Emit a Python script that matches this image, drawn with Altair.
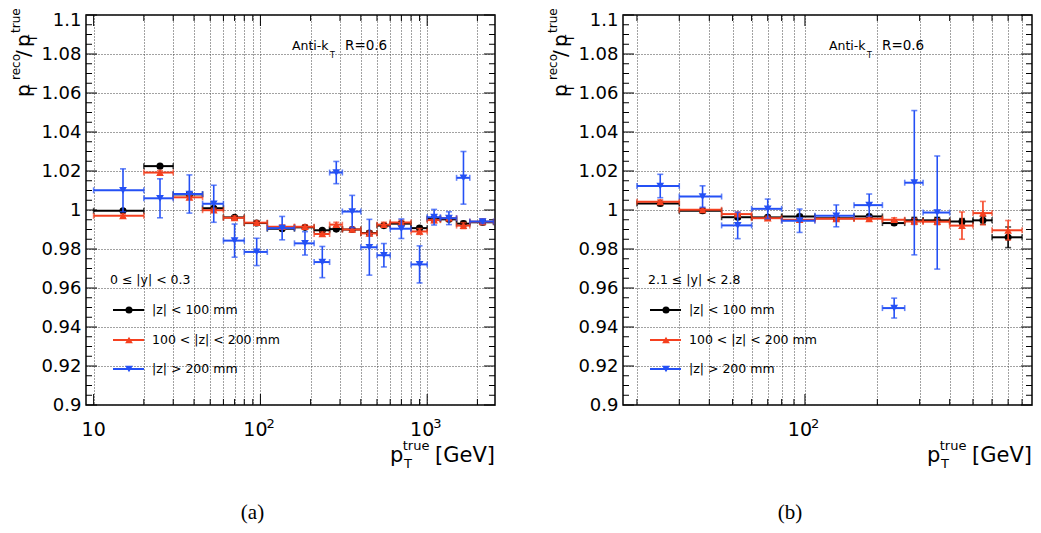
import altair as alt
import pandas as pd

# ---------------- panel (a): 0 <= |y| < 0.3 ----------------
a_lo = [10, 20, 30, 45, 60, 80, 110, 160, 210, 260, 310, 400, 500, 600, 800, 1000, 1200, 1500, 1800]
a_hi = [20, 30, 45, 60, 80, 110, 160, 210, 260, 310, 400, 500, 600, 800, 1000, 1200, 1500, 1800, 2500]
a_x = [15, 25, 37.5, 52.5, 70, 95, 135, 185, 235, 285, 355, 450, 550, 700, 900, 1100, 1350, 1650, 2150]
a_black = [0.9996, 1.0225, 1.008, 1.0009, 0.9962, 0.9933, 0.9904, 0.9911, 0.9896, 0.9902, 0.9900,
           0.9882, 0.9920, 0.9930, 0.9907, 0.9955, 0.9952, 0.9930, 0.9937]
a_black_err = [0.0008, 0.0008, 0.0008, 0.0008, 0.0008, 0.0008, 0.0008, 0.0008, 0.0008, 0.0008, 0.0008,
               0.001, 0.001, 0.001, 0.001, 0.001, 0.001, 0.0012, 0.0012]
a_red = [0.9970, 1.0192, 1.0065, 0.9999, 0.9960, 0.9935, 0.9914, 0.9914, 0.9877, 0.9925, 0.9900,
         0.9880, 0.9925, 0.9936, 0.9890, 0.9948, 0.9958, 0.9920, 0.9940]
a_red_err = [0.001, 0.001, 0.001, 0.001, 0.001, 0.001, 0.001, 0.001, 0.001, 0.0012, 0.0012,
             0.0012, 0.0012, 0.0012, 0.0015, 0.0012, 0.0012, 0.0015, 0.0015]
a_blue = [1.0101, 1.0060, 1.0082, 1.0032, 0.9843, 0.9785, 0.9907, 0.9829, 0.9733, 1.0192, 0.9992,
          0.9809, 0.9768, 0.9904, 0.9721, 0.9963, 0.9958, 1.0165, 0.9941]
a_blue_err = [0.011, 0.010, 0.0098, 0.0095, 0.0085, 0.007, 0.006, 0.006, 0.008, 0.0057, 0.0083,
              0.0143, 0.006, 0.005, 0.0095, 0.004, 0.0033, 0.0135, 0.001]

# ---------------- panel (b): 2.1 <= |y| < 2.8 ----------------
b_lo = [20, 30, 45, 60, 80, 110, 160, 210, 260, 310, 400, 500, 600]
b_hi = [30, 45, 60, 80, 110, 160, 210, 260, 310, 400, 500, 600, 800]
b_x = [25, 37.5, 52.5, 70, 95, 135, 185, 235, 285, 355, 450, 550, 700]
b_black = [1.0033, 0.9996, 0.9963, 0.9962, 0.9967, 0.9958, 0.9967, 0.9933, 0.9947, 0.9947, 0.9941, 0.9947, 0.9860]
b_black_err = [0.001, 0.001, 0.001, 0.001, 0.001, 0.001, 0.001, 0.001, 0.0015, 0.0015, 0.0015, 0.002, 0.0053]
b_red = [1.0042, 1.0001, 0.9979, 0.9958, 0.9950, 0.9955, 0.9955, 0.9950, 0.9941, 0.9940, 0.9920, 0.9984, 0.9896]
b_red_err = [0.001, 0.001, 0.001, 0.001, 0.001, 0.001, 0.001, 0.001, 0.0015, 0.0015, 0.007, 0.006, 0.005]
b_blue = [1.0123, 1.0069, 0.9921, 1.0006, 0.9945, 0.9970, 1.0025, 0.9497, 1.0140, 0.9987]
b_blue_err = [0.006, 0.0055, 0.0068, 0.005, 0.006, 0.0056, 0.0057, 0.0051, 0.037, 0.029]

# ---------------- axes ----------------
y_major = [0.90, 0.92, 0.94, 0.96, 0.98, 1.00, 1.02, 1.04, 1.06, 1.08, 1.10]
y_minor = [round(0.9 + 0.005 * i, 3) for i in range(41) if i % 4 != 0]

a_grid = [10, 20, 30, 40, 50, 60, 70, 80, 90, 100, 200, 300, 400, 500, 600, 700, 800, 900, 1000, 2000]
a_major = [10, 100, 1000]
a_minor = [20, 30, 40, 50, 60, 70, 80, 90, 200, 300, 400, 500, 600, 700, 800, 900, 2000]
a_plain = [10]
a_pow = [100, 1000]
a_exp = ["2", "3"]

b_grid = [20, 30, 40, 50, 60, 70, 80, 90, 100, 200, 300, 400, 500, 600, 700, 800]
b_major = [100]
b_minor = [20, 30, 40, 50, 60, 70, 80, 90, 200, 300, 400, 500, 600, 700, 800]
b_plain = []
b_pow = [100]
b_exp = ["2"]

series_names = ["|z| < 100 mm", "100 < |z| < 200 mm", "|z| > 200 mm"]
colors = ["#000000", "#F5401F", "#2450F5"]
shapes = ["circle", "triangle-up", "triangle-down"]
sizes = [50, 60, 60]

W, H = 409, 390
FONT = "DejaVu Sans"
ONE = pd.DataFrame({"k": [0]})
D = -3  # vertical offset of annotations relative to the plot top


def T(s, x, y, size, align="left", baseline="alphabetic", angle=None, font=FONT):
    kw = dict(text=s, align=align, baseline=baseline, fontSize=size, font=font, color="black")
    if angle is not None:
        kw["angle"] = angle
    return alt.Chart(ONE).mark_text(**kw).encode(x=alt.value(x), y=alt.value(y + D))


def make_panel(lo, hi, xc, series, xdom, grid_vals, major, minor, plain, powv, expv, eta_text, eta_x):
    xs = alt.Scale(type="log", domain=xdom, nice=False)
    ys = alt.Scale(domain=[0.9, 1.1], nice=False, zero=False)
    xaxis = alt.Axis(values=grid_vals, labels=False, ticks=False, domain=False, grid=True,
                     gridDash=[1, 2], gridColor="#444444", gridWidth=1, title=None)
    yaxis = alt.Axis(values=y_major, format=".2~f", labelFont=FONT, labelFontSize=18,
                     labelColor="black", labelPadding=5, ticks=False, domain=False, grid=True,
                     gridDash=[1, 2], gridColor="#444444", gridWidth=1, title=None,
                     labelFlush=False, labelOverlap=False,
                     labelOffset=alt.condition("datum.value > 1.099", alt.value(5), alt.value(0)))

    def X(f):
        return alt.X(f, type="quantitative", scale=xs, axis=xaxis)

    def Y(f):
        return alt.Y(f, type="quantitative", scale=ys, axis=yaxis)

    layers = []
    ym = pd.DataFrame({"v": y_major})
    yn = pd.DataFrame({"v": y_minor})
    xm = pd.DataFrame({"v": major})
    xn = pd.DataFrame({"v": minor})
    for df, L in ((ym, 11), (yn, 6)):
        layers.append(alt.Chart(df).mark_rule(color="black", strokeWidth=1).encode(
            y=Y("v"), x=alt.value(0), x2=alt.value(L)))
        layers.append(alt.Chart(df).mark_rule(color="black", strokeWidth=1).encode(
            y=Y("v"), x=alt.value(W - L), x2=alt.value(W)))
    for df, L in ((xm, 11), (xn, 6)):
        layers.append(alt.Chart(df).mark_rule(color="black", strokeWidth=1).encode(
            x=X("v"), y=alt.value(H), y2=alt.value(H - L)))
        layers.append(alt.Chart(df).mark_rule(color="black", strokeWidth=1).encode(
            x=X("v"), y=alt.value(0), y2=alt.value(L)))

    # x tick labels
    if plain:
        layers.append(alt.Chart(pd.DataFrame({"v": plain})).mark_text(
            text="10", align="center", baseline="alphabetic", fontSize=19, font=FONT, color="black"
        ).encode(x=X("v"), y=alt.value(424 + D)))
    pdf = pd.DataFrame({"v": powv, "e": expv})
    layers.append(alt.Chart(pdf).mark_text(
        text="10", align="center", baseline="alphabetic", fontSize=19, font=FONT, color="black", dx=-5
    ).encode(x=X("v"), y=alt.value(424 + D)))
    layers.append(alt.Chart(pdf).mark_text(
        align="left", baseline="alphabetic", fontSize=13, font=FONT, color="black", dx=6
    ).encode(x=X("v"), y=alt.value(416 + D), text="e:N"))

    # data series
    for (vals, errs), color, shape, size in zip(series, colors, shapes, sizes):
        n = len(vals)
        df = pd.DataFrame({
            "lo": lo[:n], "hi": hi[:n], "x": xc[:n], "y": vals,
            "ylo": [v - e for v, e in zip(vals, errs)],
            "yhi": [v + e for v, e in zip(vals, errs)],
        })
        base = alt.Chart(df)
        layers += [
            base.mark_rule(color=color, strokeWidth=2).encode(x=X("lo"), x2=alt.X2("hi"), y=Y("y")),
            base.mark_rule(color=color, strokeWidth=1.6).encode(x=X("x"), y=Y("ylo"), y2=alt.Y2("yhi")),
            base.transform_fold(["lo", "hi"], as_=["k", "xv"]).mark_tick(
                orient="vertical", size=6, thickness=1.6, color=color).encode(x=X("xv"), y=Y("y")),
            base.transform_fold(["ylo", "yhi"], as_=["k", "yv"]).mark_tick(
                orient="horizontal", size=6, thickness=1.6, color=color).encode(x=X("x"), y=Y("yv")),
            base.mark_point(shape=shape, filled=True, size=size, color=color, opacity=1).encode(
                x=X("x"), y=Y("y")),
        ]

    # legend
    for i, (name, color, shape, size) in enumerate(zip(series_names, colors, shapes, sizes)):
        yy = [298, 328, 357][i]
        layers.append(alt.Chart(ONE).mark_rule(color=color, strokeWidth=2).encode(
            x=alt.value(27), x2=alt.value(58), y=alt.value(yy + D)))
        layers.append(alt.Chart(ONE).mark_point(shape=shape, filled=True, size=size, color=color,
                                                opacity=1).encode(x=alt.value(43), y=alt.value(yy + D)))
        layers.append(T(name, 66, yy, 12.5, baseline="middle"))

    # annotations
    layers += [
        T("Anti-k", 206, 38, 12.5),
        T("T", 244, 46, 8),
        T("R=0.6", 259, 38, 13.5),
        T(eta_text, eta_x, 272, 12.5),
        # y title (rotated)
        T("p", -56, 85, 20, angle=270),
        T("T", -49, 80, 12, angle=270),
        T("reco", -66, 68, 12, angle=270),
        T("/", -56, 45, 20, angle=270),
        T("p", -56, 35, 20, angle=270),
        T("T", -49, 30, 12, angle=270),
        T("true", -66, 21, 12, angle=270),
        # x title
        T("p", 304, 449.7, 21),
        T("T", 318, 456.3, 13),
        T("true", 316.7, 438, 13),
        T("[GeV]", 409, 449.7, 21, align="right"),
    ]
    return alt.layer(*layers).properties(width=W, height=H)


left = make_panel(a_lo, a_hi, a_x,
                  [(a_black, a_black_err), (a_red, a_red_err), (a_blue, a_blue_err)],
                  [9, 2550], a_grid, a_major, a_minor, a_plain, a_pow, a_exp,
                  "0 \u2264 |y| < 0.3", 24)
left = alt.layer(left, T("(a)", 166.5, 507, 21, align="center", font="Liberation Serif"))

right = make_panel(b_lo, b_hi, b_x,
                   [(b_black, b_black_err), (b_red, b_red_err), (b_blue, b_blue_err)],
                   [17.5, 880], b_grid, b_major, b_minor, b_plain, b_pow, b_exp,
                   "2.1 \u2264 |y| < 2.8", 25)
right = alt.layer(right, T("(b)", 167, 507, 21, align="center", font="Liberation Serif"))

chart = alt.hconcat(left, right, spacing=128, bounds="flush").properties(
    autosize=alt.AutoSizeParams(type="none"),
    padding={"left": 78, "top": 7, "right": 947, "bottom": 510},
).configure_view(stroke="black", strokeWidth=1.5)

chart.save("out.html", embed_options={"renderer": "svg", "actions": False})
